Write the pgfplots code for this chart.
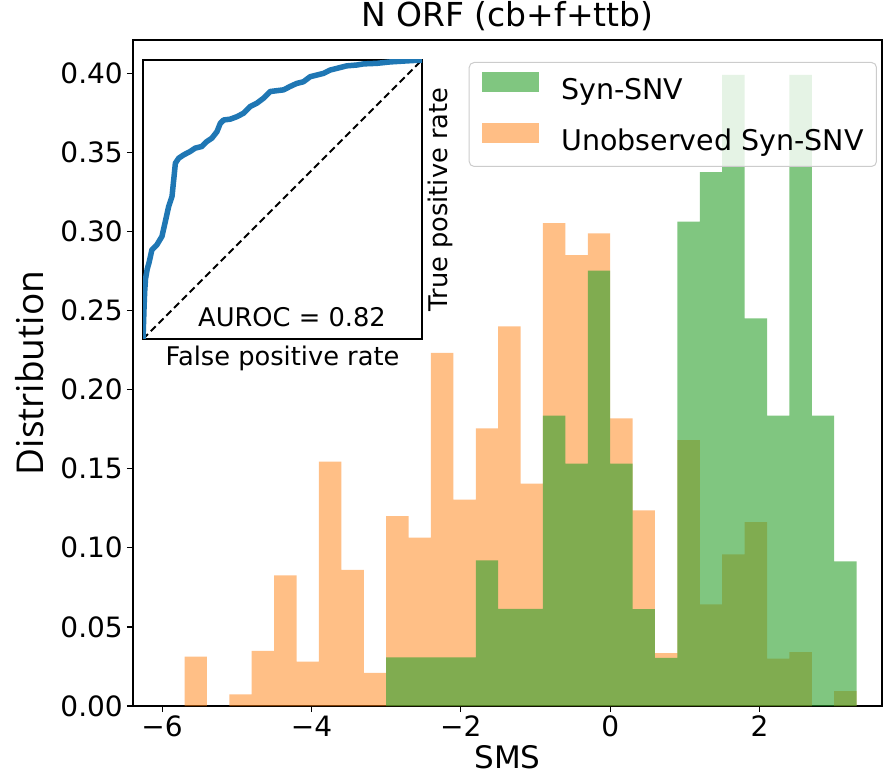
\documentclass[border=0pt]{standalone}
\usepackage{fontspec}
\setmainfont{DejaVu Sans}
\newfontfamily\opensans{Open Sans}
\usepackage{pgfplots}
\pgfplotsset{compat=1.18}
\definecolor{C0}{HTML}{1F77B4}
\definecolor{C1}{HTML}{FF7F0E}
\definecolor{C2}{HTML}{2CA02C}

\pgfplotstableread{
x y
-5.55 0.0312
-4.95 0.0074
-4.65 0.0348
-4.35 0.0826
-4.05 0.0280
-3.75 0.1544
-3.45 0.0861
-3.15 0.0209
-2.85 0.1201
-2.55 0.1064
-2.25 0.2233
-1.95 0.1304
-1.65 0.1755
-1.35 0.2399
-1.05 0.1405
-0.75 0.3052
-0.45 0.2850
-0.15 0.2987
0.15 0.1818
0.45 0.1237
0.75 0.0335
1.05 0.1681
1.35 0.0642
1.65 0.0958
1.95 0.1162
2.25 0.0300
2.55 0.0340
3.15 0.0094
}\unobs

\pgfplotstableread{
x y
-2.85 0.0307
-2.55 0.0307
-2.25 0.0307
-1.95 0.0307
-1.65 0.0920
-1.35 0.0614
-1.05 0.0614
-0.75 0.1835
-0.45 0.1532
-0.15 0.2752
0.15 0.1532
0.45 0.0612
0.75 0.0304
1.05 0.3062
1.35 0.3375
1.65 0.3990
1.95 0.2450
2.25 0.1835
2.55 0.3990
2.85 0.1835
3.15 0.0915
}\synsnv

\pgfplotstableread{
x y
0.000 0.000
0.002 0.060
0.004 0.120
0.006 0.170
0.009 0.215
0.015 0.250
0.022 0.275
0.032 0.320
0.050 0.338
0.068 0.368
0.080 0.421
0.092 0.475
0.104 0.511
0.110 0.570
0.116 0.630
0.128 0.648
0.146 0.660
0.169 0.672
0.187 0.684
0.211 0.690
0.229 0.708
0.247 0.720
0.265 0.743
0.277 0.773
0.289 0.785
0.313 0.788
0.337 0.797
0.360 0.809
0.384 0.833
0.408 0.845
0.432 0.863
0.456 0.887
0.480 0.890
0.504 0.893
0.527 0.905
0.551 0.916
0.575 0.922
0.599 0.940
0.623 0.946
0.647 0.952
0.671 0.964
0.695 0.970
0.730 0.979
0.766 0.982
0.790 0.986
0.838 0.988
0.885 0.993
0.933 0.996
1.000 1.000
}\roc

\begin{document}
\begin{tikzpicture}
\useasboundingbox (0pt,0pt) rectangle (889pt,777pt);
\begin{axis}[
  at={(133pt,71pt)}, anchor=south west,
  width=749pt, height=666pt, scale only axis,
  xmin=-6.39, xmax=3.64, ymin=0, ymax=0.421,
  axis line style={black, line width=1.2pt},
  tick align=outside, major tick length=6pt,
  tick style={black, line width=1.2pt},
  tick pos=left,
  xtick={-6,-4,-2,0,2}, xticklabels={−6,−4,−2,0,2},
  ytick={0,0.05,0.1,0.15,0.2,0.25,0.3,0.35,0.4},
  yticklabels={0.00,0.05,0.10,0.15,0.20,0.25,0.30,0.35,0.40},
  ticklabel style={font=\fontsize{28pt}{34pt}\selectfont, inner sep=0pt},
  xticklabel style={anchor=north, yshift=-4pt},
  yticklabel style={anchor=east, xshift=-4pt},
  title={\fontsize{33pt}{40pt}\selectfont N ORF (cb+f+ttb)},
  title style={at={(axis description cs:0.5,1)}, anchor=base, yshift=7pt, inner sep=0pt},
  xlabel={SMS}, ylabel={Distribution},
  every axis x label/.style={at={(axis description cs:0.5,0)}, anchor=base, yshift=-62pt, inner sep=0pt, font=\fontsize{31pt}{36pt}\selectfont},
  every axis y label/.style={at={(axis description cs:0,0.5)}, anchor=center, xshift=-103pt, rotate=90, inner sep=0pt, font=\fontsize{37pt}{44pt}\selectfont\opensans},
  legend cell align=left,
  legend image code/.code={\fill[sharp corners,#1] (0pt,0pt) rectangle (57pt,20pt);},
  legend style={at={(rel axis cs:0.9933,0.967)}, anchor=north east,
    draw=black!20, line width=1pt, rounded corners=5pt,
    fill=white, fill opacity=0.8, text opacity=1,
    font=\fontsize{28.5pt}{34pt}\selectfont,
    inner xsep=13pt, inner ysep=10pt, row sep=17pt, column sep=0pt,
    nodes={inner sep=0pt, text height=21pt, text depth=6pt},
    /tikz/every odd column/.append style={column sep=22pt}},
]
\addlegendimage{fill=C2, fill opacity=0.6, draw=none}
\addlegendentry{Syn-SNV}
\addlegendimage{fill=C1, fill opacity=0.5, draw=none}
\addlegendentry{Unobserved Syn-SNV}
\addplot[ybar, bar width=0.3, bar shift=0pt, fill=C1, fill opacity=0.5, draw=none, forget plot] table {\unobs};
\addplot[ybar, bar width=0.3, bar shift=0pt, fill=C2, fill opacity=0.6, draw=none, forget plot] table {\synsnv};
\end{axis}

\begin{axis}[
  at={(143pt,438pt)}, anchor=south west,
  width=279pt, height=279pt, scale only axis,
  xmin=0, xmax=1, ymin=0, ymax=1,
  xtick=\empty, ytick=\empty,
  axis line style={black, line width=1.2pt},
  axis background/.style={fill=white},
  xlabel={False positive rate}, ylabel={True positive rate},
  every axis x label/.style={at={(axis description cs:0.5,0)}, anchor=north, yshift=-7pt, inner sep=0pt, font=\fontsize{25.7pt}{30pt}\selectfont},
  every axis y label/.style={at={(axis description cs:1,0.5)}, xshift=6pt, rotate=90, anchor=north, inner sep=0pt, font=\fontsize{25.7pt}{30pt}\selectfont},
]
\addplot[black, line width=2pt, dash pattern=on 7pt off 4pt] coordinates {(0,0) (1,1)};
\addplot[C0, line width=5.5pt, line join=round] table {\roc};
\node[font=\fontsize{25.7pt}{30pt}\selectfont] at (axis cs:0.534,0.08) {AUROC = 0.82};
\end{axis}
\end{tikzpicture}
\end{document}
